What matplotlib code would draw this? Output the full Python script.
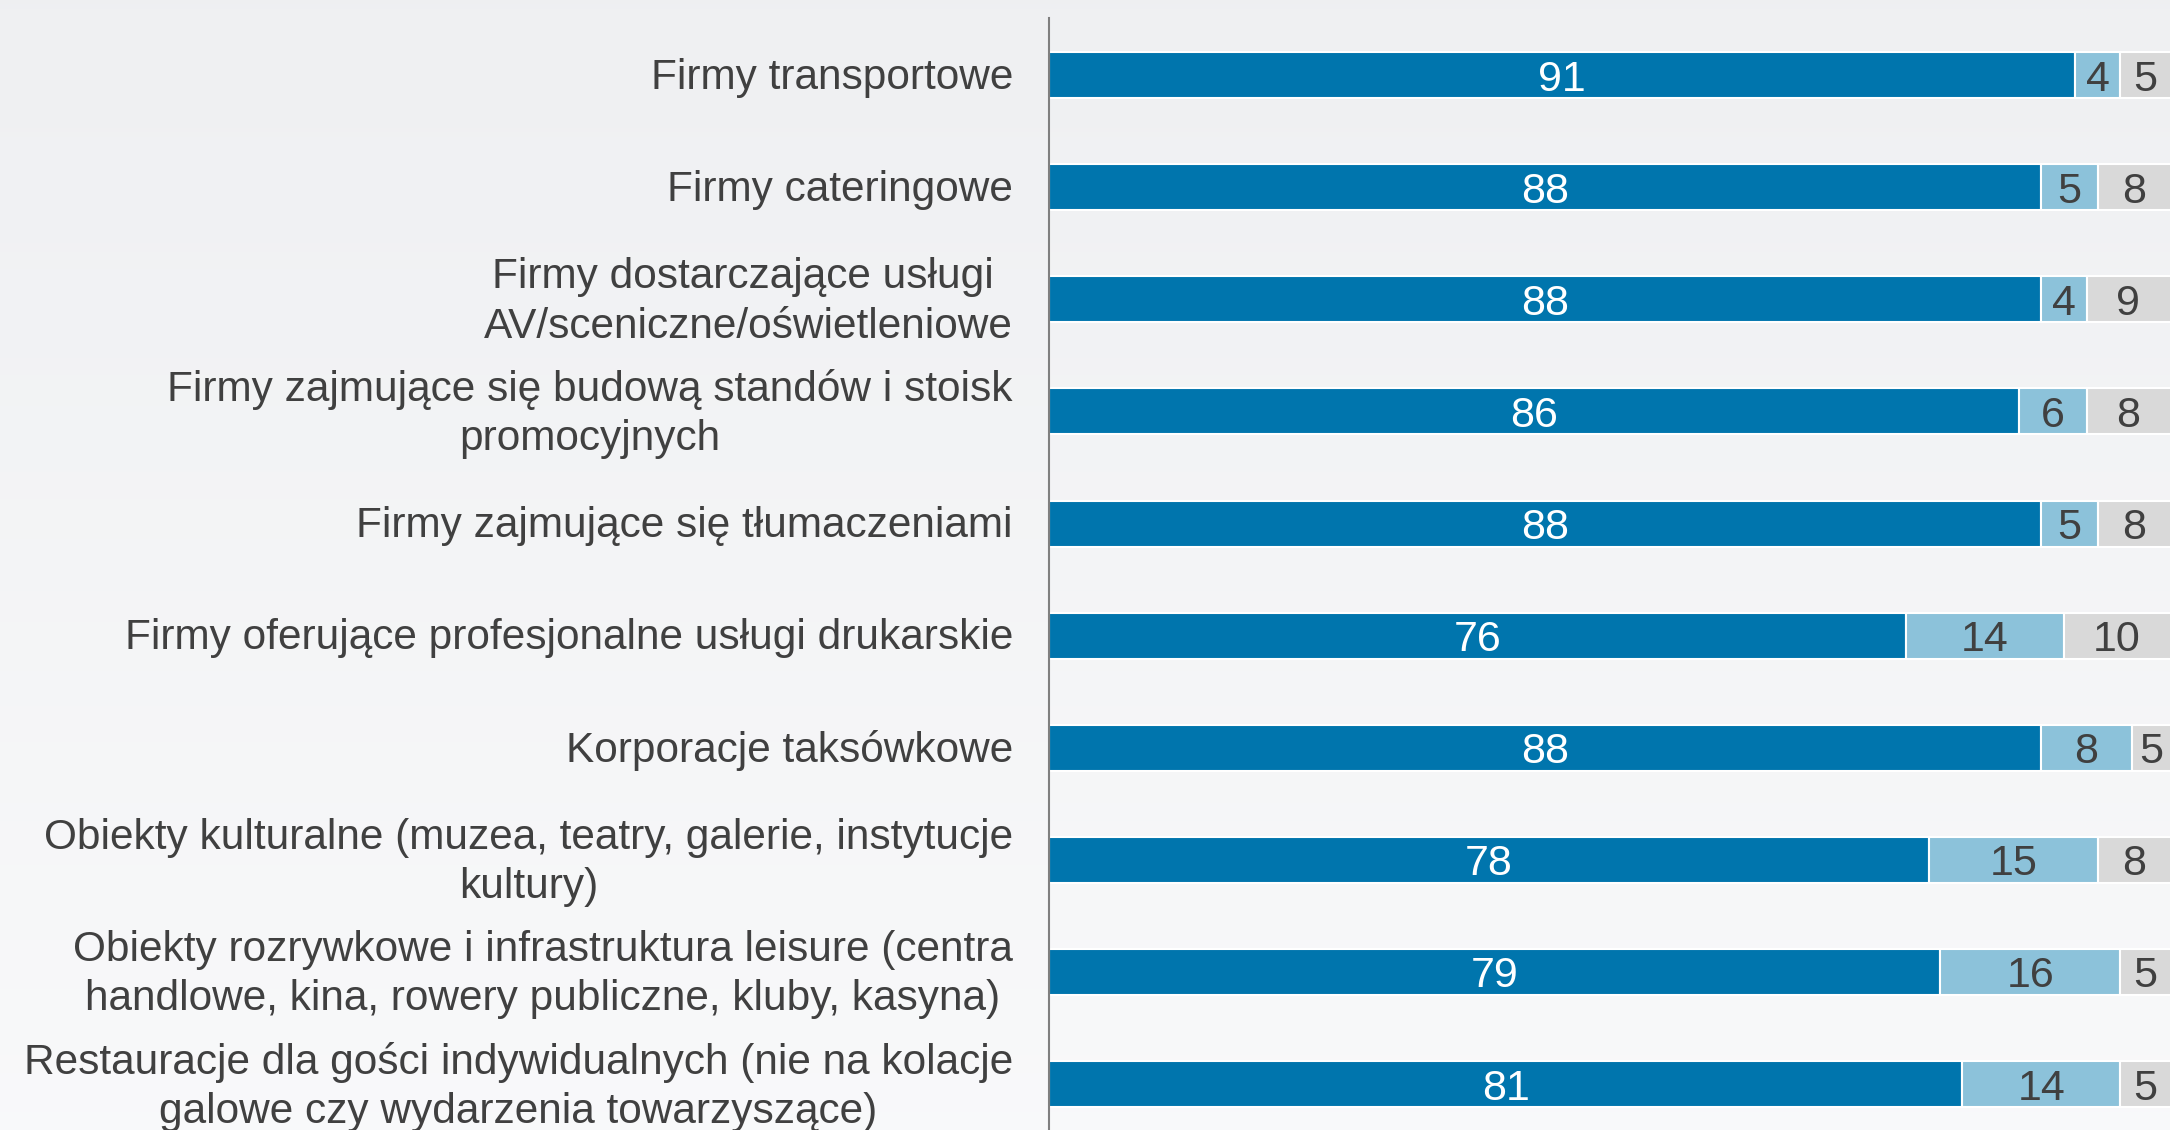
import numpy as np
import matplotlib.pyplot as plt

plt.rcParams['font.family'] = ['Liberation Sans', 'DejaVu Sans']

# kategorie (od góry)
kategorie = [
    "Firmy transportowe",
    "Firmy cateringowe",
    "Firmy dostarczające usługi \nAV/sceniczne/oświetleniowe",
    "Firmy zajmujące się budową standów i stoisk\npromocyjnych",
    "Firmy zajmujące się tłumaczeniami",
    "Firmy oferujące profesjonalne usługi drukarskie",
    "Korporacje taksówkowe",
    "Obiekty kulturalne (muzea, teatry, galerie, instytucje\nkultury)",
    "Obiekty rozrywkowe i infrastruktura leisure (centra\nhandlowe, kina, rowery publiczne, kluby, kasyna)",
    "Restauracje dla gości indywidualnych (nie na kolacje\ngalowe czy wydarzenia towarzyszące)",
]

# wartości serii (%)
ciemne = [91, 88, 88, 86, 88, 76, 88, 78, 79, 81]
jasne = [4, 5, 4, 6, 5, 14, 8, 15, 16, 14]
szare = [5, 8, 9, 8, 8, 10, 5, 8, 5, 5]

kol_ciemny = "#0075AD"
kol_jasny = "#8CC2DA"
kol_szary = "#D9D9D9"
kol_tekst = "#404040"

W, H = 2170, 1130
fig = plt.figure(figsize=(W / 100, H / 100), dpi=100)

# tło z lekkim gradientem
bg = fig.add_axes([0, 0, 1, 1], zorder=-1)
grad = np.linspace(0, 1, 256).reshape(-1, 1)
top = np.array([0.937, 0.941, 0.949])
bot = np.array([0.975, 0.977, 0.982])
img = top + (bot - top) * grad[..., None]
bg.imshow(img, aspect="auto", extent=[0, 1, 0, 1], origin="upper")
bg.axis("off")

ax = fig.add_axes([1049 / W, 0, 1 - 1049 / W, (H - 18) / H])
ax.patch.set_alpha(0)

y = np.arange(len(kategorie))
c = np.array(ciemne)
j = np.array(jasne)
s = np.array(szare)

h = 0.41
b1 = ax.barh(y, c, height=h, color=kol_ciemny, edgecolor="white", linewidth=1.5)
b2 = ax.barh(y, j, left=c, height=h, color=kol_jasny, edgecolor="white", linewidth=1.5)
b3 = ax.barh(y, s, left=c + j, height=h, color=kol_szary, edgecolor="white", linewidth=1.5)

etykiety = []
etykiety += ax.bar_label(b1, labels=[str(v) for v in ciemne], label_type="center",
                         color="white", fontsize=31)
etykiety += ax.bar_label(b2, labels=[str(v) for v in jasne], label_type="center",
                         color=kol_tekst, fontsize=31)
etykiety += ax.bar_label(b3, labels=[str(v) for v in szare], label_type="center",
                         color=kol_tekst, fontsize=31)
for t in etykiety:
    t.set_va("center_baseline")

ax.set_xlim(0, 99.4)
ax.set_ylim(9.41, -0.51)
ax.set_xticks([])
ax.set_yticks([])

# opisy kategorii po lewej stronie osi
for yi, lab in zip(y, kategorie):
    ax.annotate(lab, xy=(0, yi), xycoords=ax.get_yaxis_transform(),
                xytext=(-26, -2), textcoords="offset points",
                ha="right", va="center", multialignment="center",
                linespacing=1.3, fontsize=30.5, color=kol_tekst)

for sp in ["top", "right", "bottom"]:
    ax.spines[sp].set_visible(False)
ax.spines["left"].set_color("#7F7F7F")
ax.spines["left"].set_linewidth(1.5)

fig.savefig("out.png", dpi=100)
